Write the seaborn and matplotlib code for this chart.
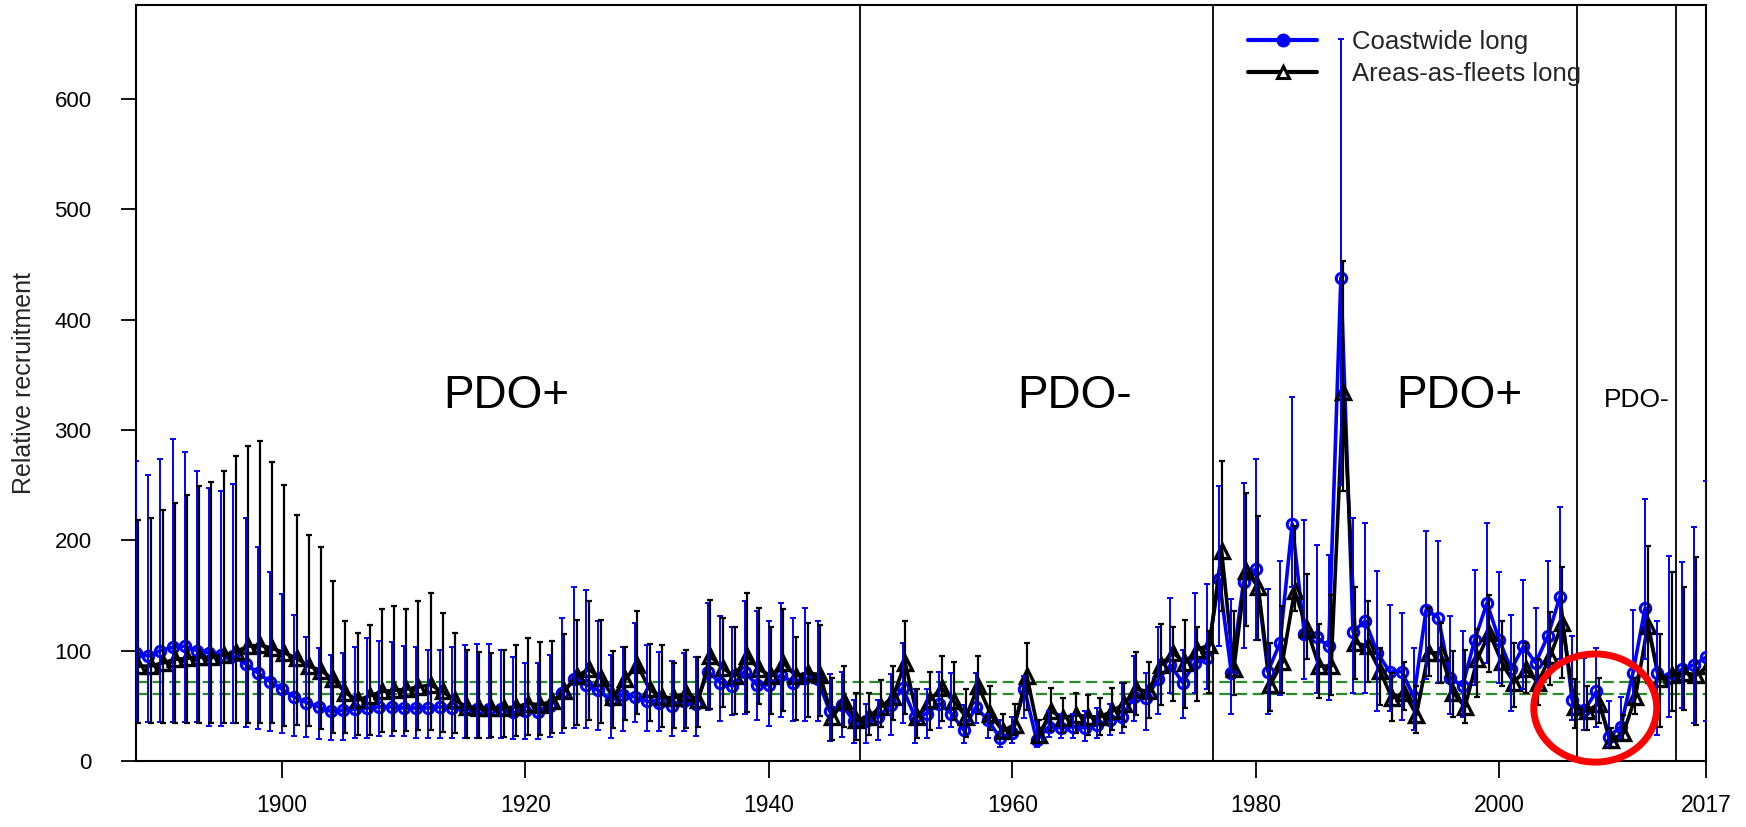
import numpy as np
import pandas as pd
import matplotlib
matplotlib.use("Agg")
import matplotlib.pyplot as plt
from matplotlib.lines import Line2D
from matplotlib.patches import Ellipse
import seaborn as sns

years = list(range(1888, 2018))

# Coastwide long model: relative recruitment and interval bounds
coast_mid = [98, 95, 100, 103, 104, 100, 98, 96, 95, 88,
             80, 72, 65, 58, 53, 49, 45, 46, 47, 48,
             49, 49, 48, 48, 48, 49, 48, 47, 47, 47,
             47, 44, 45, 44, 50, 62, 74, 69, 64, 55,
             60, 58, 54, 53, 50, 54, 52, 81, 71, 68,
             81, 69, 69, 78, 71, 75, 74, 45, 51, 36,
             36, 40, 51, 66, 40, 43, 52, 43, 28, 49,
             37, 21, 25, 65, 19, 31, 30, 31, 30, 33,
             37, 40, 58, 57, 74, 87, 71, 89, 93, 165,
             80, 162, 174, 81, 107, 215, 115, 112, 104, 438,
             117, 127, 98, 81, 81, 58, 137, 130, 75, 68,
             110, 143, 110, 83, 104, 89, 113, 149, 55, 46,
             63, 22, 31, 80, 139, 80, 75, 83, 87, 94]
coast_hi = [272, 259, 274, 292, 280, 263, 247, 245, 251, 220,
            194, 171, 151, 132, 112, 102, 96, 98, 103, 111,
            109, 108, 104, 103, 101, 101, 103, 105, 106, 106,
            101, 94, 89, 89, 96, 130, 158, 155, 127, 96,
            103, 125, 105, 99, 91, 98, 94, 143, 131, 121,
            145, 136, 127, 143, 130, 139, 127, 79, 81, 55,
            52, 55, 79, 107, 65, 65, 81, 80, 51, 80,
            43, 37, 40, 77, 36, 45, 43, 43, 45, 48,
            52, 71, 95, 80, 121, 148, 101, 152, 160, 249,
            147, 252, 274, 156, 181, 330, 218, 196, 187, 654,
            220, 216, 172, 141, 134, 102, 208, 199, 131, 118,
            173, 216, 171, 132, 164, 139, 181, 230, 113, 93,
            102, 54, 58, 137, 237, 127, 186, 180, 212, 254]
coast_lo = [35, 35, 35, 35, 35, 35, 32, 32, 34, 31,
            29, 27, 25, 23, 22, 20, 19, 19, 21, 21,
            23, 23, 23, 21, 21, 21, 21, 21, 21, 21,
            21, 20, 20, 20, 22, 25, 30, 30, 28, 21,
            27, 35, 27, 27, 23, 27, 23, 46, 36, 42,
            43, 37, 32, 40, 36, 36, 36, 18, 22, 16,
            16, 19, 24, 34, 16, 21, 30, 31, 16, 34,
            21, 13, 16, 39, 13, 22, 21, 21, 18, 21,
            24, 25, 36, 28, 43, 62, 39, 62, 65, 104,
            43, 102, 110, 43, 60, 158, 74, 62, 55, 250,
            62, 62, 45, 45, 37, 28, 74, 71, 43, 40,
            69, 89, 71, 45, 65, 55, 75, 92, 37, 28,
            31, 13, 21, 54, 92, 24, 40, 48, 34, 36]

# Areas-as-fleets long model
aaf_mid = [86, 86, 89, 92, 93, 94, 94, 96, 99, 104,
           105, 102, 98, 93, 86, 82, 74, 62, 55, 59,
           63, 64, 65, 67, 69, 63, 55, 49, 48, 48,
           48, 49, 52, 51, 54, 63, 77, 83, 75, 58,
           74, 87, 65, 58, 57, 62, 55, 95, 84, 77,
           95, 83, 77, 89, 77, 80, 78, 40, 54, 37,
           40, 49, 58, 89, 40, 55, 66, 54, 40, 68,
           43, 27, 33, 77, 24, 45, 39, 42, 40, 40,
           45, 52, 65, 63, 87, 98, 89, 101, 105, 190,
           83, 172, 158, 69, 90, 154, 120, 86, 86, 334,
           107, 104, 82, 57, 62, 42, 98, 98, 62, 49,
           92, 116, 90, 71, 83, 71, 95, 125, 49, 45,
           52, 19, 25, 58, 122, 74, 78, 80, 78, 86]
aaf_hi = [218, 220, 227, 234, 241, 249, 253, 263, 276, 285,
          290, 271, 250, 223, 205, 194, 163, 127, 116, 123,
          138, 140, 138, 145, 152, 134, 116, 101, 99, 98,
          101, 105, 111, 108, 109, 115, 128, 145, 128, 100,
          103, 136, 106, 105, 89, 101, 94, 146, 130, 121,
          152, 139, 121, 138, 112, 125, 123, 75, 86, 62,
          62, 73, 86, 127, 65, 81, 95, 90, 65, 95,
          68, 43, 52, 107, 37, 66, 57, 62, 60, 57,
          66, 71, 99, 90, 124, 121, 128, 121, 118, 272,
          136, 243, 222, 107, 140, 213, 169, 124, 150, 453,
          158, 145, 102, 80, 90, 68, 139, 125, 100, 101,
          120, 150, 127, 107, 107, 92, 135, 176, 74, 68,
          75, 30, 42, 75, 195, 115, 171, 158, 185, 150]
aaf_lo = [34, 34, 34, 34, 34, 34, 34, 34, 34, 34,
          34, 34, 32, 33, 32, 29, 25, 25, 24, 24,
          26, 27, 27, 28, 28, 26, 25, 21, 21, 22,
          22, 23, 24, 24, 25, 30, 33, 37, 34, 30,
          37, 43, 36, 31, 30, 30, 31, 47, 49, 43,
          44, 52, 43, 45, 37, 40, 41, 19, 31, 19,
          24, 31, 37, 43, 21, 28, 36, 37, 22, 43,
          28, 21, 24, 46, 16, 27, 25, 25, 24, 24,
          28, 31, 42, 39, 51, 54, 48, 54, 62, 136,
          60, 122, 110, 45, 62, 136, 92, 57, 60, 245,
          74, 72, 51, 36, 46, 25, 77, 71, 40, 34,
          58, 81, 68, 49, 62, 51, 69, 75, 30, 28,
          34, 12, 19, 43, 71, 31, 45, 46, 33, 40]

series_names = ["Coastwide long", "Areas-as-fleets long"]
regime_breaks = [1947.5, 1976.5, 2006.4, 2014.5]
regime_labels = ["PDO+", "PDO-", "PDO+", "PDO-"]
regime_label_x = [1918.4, 1965.1, 1996.7, 2011.3]
regime_label_y = [331, 331, 331, 327]
reference_levels = [61, 72]
x_ticks = [1900, 1920, 1940, 1960, 1980, 2000, 2017]
y_ticks = [0, 100, 200, 300, 400, 500, 600]

sns.set_theme(style="ticks")
plt.rcParams["font.family"] = ["Liberation Sans", "DejaVu Sans"]

W, H = 1746, 827
fig = plt.figure(figsize=(W / 100, H / 100), dpi=100)
left, right, top, bottom = 136, 1706, 5, 761
ax = fig.add_axes([left / W, 1 - bottom / H, (right - left) / W, (bottom - top) / H])

yrs = np.array(years, dtype=float)
offset = 0.2
df_c = pd.DataFrame({"year": yrs, "value": coast_mid})
df_a = pd.DataFrame({"year": yrs + offset, "value": aaf_mid})

sns.lineplot(data=df_c, x="year", y="value", ax=ax, color="blue", lw=2.6,
             marker="o", ms=7.5, mfc="none", mec="blue", mew=2.2,
             errorbar=None, legend=False, zorder=3)
sns.lineplot(data=df_a, x="year", y="value", ax=ax, color="black", lw=2.6,
             marker="^", ms=9.5, mfc="none", mec="black", mew=2.4,
             errorbar=None, legend=False, zorder=3)

cm, ch, cl = np.array(coast_mid), np.array(coast_hi), np.array(coast_lo)
am, ah, al = np.array(aaf_mid), np.array(aaf_hi), np.array(aaf_lo)
ax.errorbar(yrs, cm, yerr=[cm - cl, ch - cm], fmt="none", ecolor="blue",
            elinewidth=1.4, capsize=2.4, capthick=1.4, zorder=4)
ax.errorbar(yrs + offset, am, yerr=[am - al, ah - am], fmt="none", ecolor="black",
            elinewidth=1.6, capsize=2.4, capthick=1.6, zorder=4)

for lvl in reference_levels:
    ax.axhline(lvl, color="#2a8a2a", lw=1.6, ls=(0, (5, 2.5)), zorder=2)

for xb in regime_breaks:
    ax.axvline(xb, color="black", lw=1.3, zorder=5)

for lab, xl, yl, fs in zip(regime_labels, regime_label_x, regime_label_y, [33, 33, 33, 19]):
    ax.text(xl, yl, lab, fontsize=fs, ha="center", va="center", color="black", zorder=6)

ax.add_patch(Ellipse((2007.9, 48), width=10.1, height=98, fill=False,
                     edgecolor="red", lw=5, clip_on=False, zorder=7))

ax.set_xlim(1888, 2017)
ax.set_ylim(0, 685)
ax.set_xticks(x_ticks)
ax.set_xticklabels([str(t) for t in x_ticks])
ax.set_yticks(y_ticks)
ax.set_xlabel("")
ax.set_ylabel("Relative recruitment", fontsize=18)
ax.yaxis.set_label_coords(-0.064, 0.5)
ax.tick_params(axis="x", length=12, width=1.3, labelsize=16.5, pad=12, colors="black")
ax.tick_params(axis="y", length=11, width=1.3, labelsize=16, pad=21, colors="black")
for s in ax.spines.values():
    s.set_linewidth(1.5)
    s.set_color("black")

h1 = Line2D([], [], color="blue", lw=3, marker="o", ms=9, mfc="blue", mec="blue")
h2 = Line2D([], [], color="black", lw=3, marker="^", ms=9, mfc="white", mec="black", mew=2.2)
leg = ax.legend([h1, h2], series_names, loc="upper left",
                bbox_to_anchor=(1248 / W, 1 - 30 / H), bbox_transform=fig.transFigure,
                frameon=False, fontsize=18.5, handlelength=2.7, handletextpad=1.35,
                labelspacing=0.3, borderpad=0, borderaxespad=0)
leg.set_zorder(10)

fig.savefig("out.png", dpi=100)
